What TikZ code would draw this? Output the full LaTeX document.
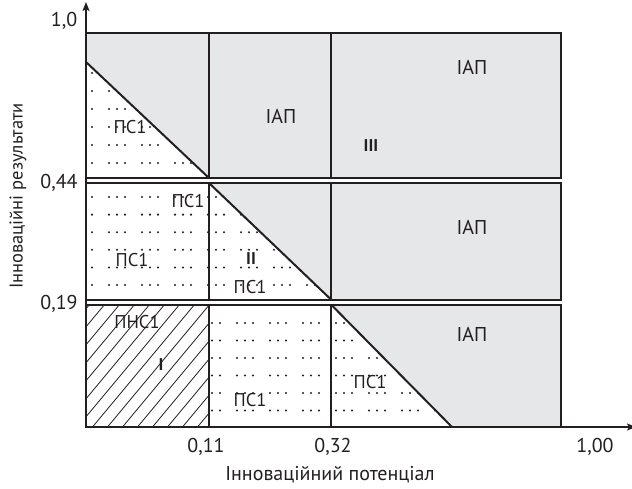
\documentclass[tikz,border=0pt]{standalone}
\usepackage{fontspec}
\setmainfont{PT Sans}
\usetikzlibrary{arrows.meta}
\definecolor{ink}{HTML}{231F20}
\definecolor{cellgray}{HTML}{E6E7E8}
\newcommand{\dotgrid}[6]{% x0, y0, groups, rows, dy, dummy
  \foreach \r in {0,...,#4}{
    \foreach \g in {0,...,#3}{
      \foreach \d in {0,8,16}{
        \fill[ink] ({#1+33*\g+\d},{#2+#5*\r}) circle (1.15);
      }
    }
  }
}
\begin{document}
\begin{tikzpicture}[x=1pt,y=-1pt,
  cell/.style={draw=ink,line width=2pt},
  diag/.style={draw=ink,line width=2pt},
  big/.style={text=ink,font=\fontsize{20}{24}\selectfont,inner sep=0pt},
  mid/.style={text=ink,font=\fontsize{18.5}{22}\selectfont,inner sep=0pt},
  roman/.style={text=ink,font=\fontsize{17}{20}\selectfont\bfseries,inner sep=0pt},
  axis/.style={draw=ink,line width=1.6pt}]
\useasboundingbox (0,0) rectangle (632,488);

% ---------- fills ----------
\fill[cellgray] (86,33) -- (209,33) -- (209,178) -- (86,62) -- cycle;
\fill[cellgray] (209,33) rectangle (561,178);
\fill[cellgray] (209,183) -- (331,183) -- (331,299) -- cycle;
\fill[cellgray] (331,183) rectangle (561,299);
\fill[cellgray] (331,305) -- (561,305) -- (561,427) -- (452,427) -- cycle;

% ---------- dots ----------
\begin{scope}
  \clip (86,62) -- (209,178) -- (86,178) -- cycle;
  \dotgrid{76}{73}{4}{6}{18}{}
\end{scope}
\begin{scope}
  \clip (86,183) -- (209,183) -- (331,299) -- (86,299) -- cycle;
  \dotgrid{76}{197}{8}{5}{17.6}{}
\end{scope}
\begin{scope}
  \clip (209,305) -- (331,305) -- (452,427) -- (209,427) -- cycle;
  \dotgrid{171}{323}{9}{6}{17.5}{}
\end{scope}

% ---------- hatching ----------
\begin{scope}
  \clip (86,305) rectangle (209,427);
  \foreach \xb in {-30,-15,...,220}{
    \draw[ink,line width=0.8pt] (\xb,430) -- ({\xb+110},298);
  }
\end{scope}

% ---------- cell borders ----------
\draw[cell] (86,33) rectangle (209,178);
\draw[cell] (209,33) rectangle (331,178);
\draw[cell] (331,33) rectangle (561,178);
\draw[cell] (86,183) rectangle (209,299.5);
\draw[cell] (209,183) rectangle (331,299.5);
\draw[cell] (331,183) rectangle (561,299.5);
\draw[cell] (86,304.5) rectangle (209,427);
\draw[cell] (209,304.5) rectangle (331,427);
\draw[cell] (331,304.5) rectangle (561,427);

% ---------- diagonals ----------
\coordinate (d1a) at (86,62);   \coordinate (d1b) at (209,178);
\coordinate (d2a) at (209,183); \coordinate (d2b) at (331,299.5);
\coordinate (d3a) at (331,304.5); \coordinate (d3b) at (452,427);
\draw[diag] (d1a) -- (d1b);
\draw[diag] (d2a) -- (d2b);
\draw[diag] (d3a) -- (d3b);

% ---------- axes ----------
\coordinate (o) at (86,427);
\coordinate (ytop) at (86,2);
\coordinate (xend) at (636,427);
\draw[axis,-{Stealth[length=9pt,width=7pt,inset=2pt]}] (o) -- (ytop);
\draw[axis,-{Stealth[length=9pt,width=7pt,inset=2pt]}] (o) -- (xend);

% ---------- labels ----------
\node[big] (l1) at (281,116) {ІАП};
\node[big] (l2) at (472,67) {ІАП};
\node[roman] (r3) at (371,146) {ІІІ};
\node[big] (l3) at (472,227) {ІАП};
\node[big] (l4) at (472,334) {ІАП};
\node[mid] (p1) at (130,127) {ПС1};
\node[mid] (p2) at (188,201) {ПС1};
\node[mid] (p3) at (132,260) {ПС1};
\node[roman] (r2) at (251,259) {ІІ};
\node[mid] (p4) at (250,287) {ПС1};
\node[mid] (p5) at (137,322) {ПНС1};
\node[roman] (r1) at (161,365) {І};
\node[mid] (p6) at (250,400) {ПС1};
\node[mid] (p7) at (370,382) {ПС1};

\node[big] (t10) at (64,21) {1,0};
\node[big] (t044) at (59,183) {0,44};
\node[big] (t019) at (59,304) {0,19};
\node[big] (t011) at (206,447) {0,11};
\node[big] (t032) at (333,447) {0,32};
\node[big] (t100) at (595,447) {1,00};
\node[big] (xt) at (330,475) {Інноваційний потенціал};
\node[text=ink,font=\fontsize{18.5}{22}\selectfont,inner sep=0pt,rotate=90] (yt) at (18,196) {Інноваційні результати};
\end{tikzpicture}
\end{document}
